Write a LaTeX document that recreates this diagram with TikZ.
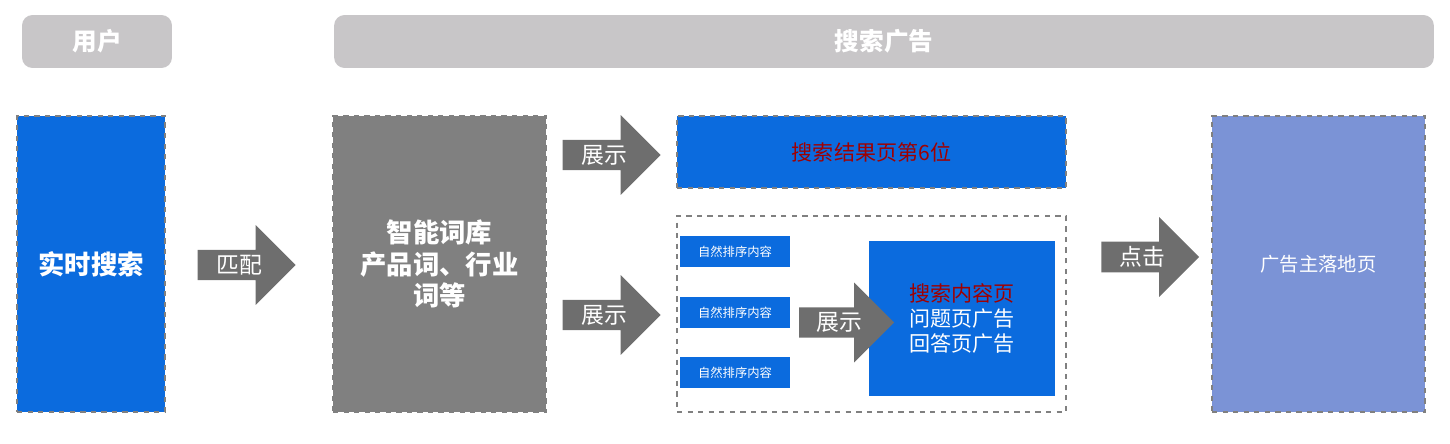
\documentclass[tikz,border=0pt]{standalone}
\usepackage{fontspec}
\setmainfont{Noto Sans CJK SC}
\usetikzlibrary{positioning}
\usetikzlibrary{shapes.arrows}
\definecolor{hdgray}{HTML}{C8C6C8}
\definecolor{adblue}{HTML}{0B6BDE}
\definecolor{boxgray}{HTML}{808080}
\definecolor{arrgray}{HTML}{6E6E6E}
\definecolor{pageblue}{HTML}{7B93D6}
\definecolor{adred}{HTML}{A00000}
\tikzset{header/.style={rectangle,rounded corners=6pt,fill=hdgray,text=white,
font=\fontsize{14}{16}\selectfont\bfseries,minimum height=1.06cm,inner sep=0pt}}
\tikzset{stage/.style={rectangle,draw=gray,dashed,line width=0.8pt,text=white,
minimum width=2.96cm,minimum height=5.92cm,inner sep=2pt,align=center}}
\tikzset{flowarrow/.style={single arrow,fill=arrgray,text=white,draw=none,
minimum height=1.96cm,minimum width=1.6cm,single arrow head extend=0.4cm,
single arrow tip angle=90,inner sep=1pt,font=\fontsize{13}{15}\selectfont}}
\tikzset{item/.style={rectangle,fill=adblue,text=white,minimum width=2.2cm,
minimum height=0.62cm,inner sep=0pt,font=\fontsize{7}{8}\selectfont}}
\begin{document}
\begin{tikzpicture}[x=0.02cm,y=-0.02cm]
\useasboundingbox (0,0) rectangle (1450,443);
% headers
\node[header,minimum width=3cm] (user) at (97,41.5) {用户};
\node[header,minimum width=22cm] (ads) at (884,41.5) {搜索广告};
% stages
\node[stage,fill=adblue,font=\fontsize{15}{18}\selectfont\bfseries] (search) at (91,264) {实时搜索};
\node[stage,fill=boxgray,minimum width=4.26cm,font=\fontsize{15}{18}\selectfont\bfseries] (words) at (439.5,264) {智能词库\\产品词、行业\\词等};
\node[stage,fill=pageblue,minimum width=4.26cm,font=\fontsize{11}{13}\selectfont] (landing) at (1318.5,264) {广告主落地页};
\node[rectangle,draw=gray,dashed,line width=0.8pt,fill=adblue,minimum width=7.78cm,
minimum height=1.44cm,text=adred,font=\fontsize{12}{14}\selectfont] (result) at (871.5,152) {搜索结果页第6位};
\node[rectangle,draw=gray,dashed,line width=0.8pt,minimum width=7.78cm,minimum height=3.92cm] (content) at (871.5,314) {};
% natural results
\node[item] (nat1) at (735,251.5) {自然排序内容};
\node[item] (nat2) at (735,312.5) {自然排序内容};
\node[item] (nat3) at (735,372.5) {自然排序内容};
\node[rectangle,fill=adblue,minimum width=3.72cm,minimum height=3.1cm,align=center,
text=white,font=\fontsize{12}{14.5}\selectfont] (qa) at (962,318.5) {\textcolor{adred}{搜索内容页}\\问题页广告\\回答页广告};
% arrows
\node[flowarrow] (match) at (239,265) {匹配\hspace{0.45cm}};
\node[flowarrow] (show1) at (604,155) {展示\hspace{0.45cm}};
\node[flowarrow] (show2) at (604,315) {展示\hspace{0.45cm}};
\node[flowarrow,minimum height=1.9cm] (show3) at (839,322.5) {展示\hspace{0.45cm}};
\node[flowarrow] (click) at (1142.5,257) {点击\hspace{0.45cm}};
\end{tikzpicture}
\end{document}
